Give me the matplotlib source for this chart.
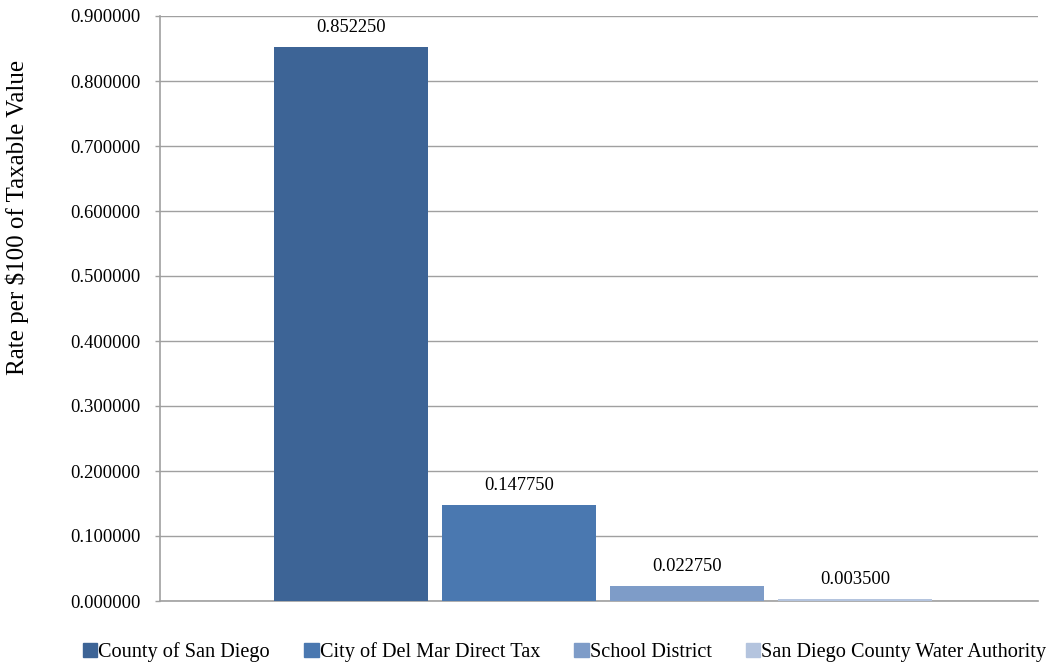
import matplotlib.pyplot as plt
from matplotlib.patches import Patch

# data
agencies = ['County of San Diego', 'City of Del Mar Direct Tax',
            'School District', 'San Diego County Water Authority']
rates = [0.852250, 0.147750, 0.022750, 0.003500]
colors = ['#3D6496', '#4A78B0', '#7E9CC8', '#B4C4DE']
yticks = [0.0, 0.1, 0.2, 0.3, 0.4, 0.5, 0.6, 0.7, 0.8, 0.9]

plt.rcParams['font.family'] = ['Liberation Serif', 'DejaVu Serif']
fs = 13.3
grey = '#A0A0A0'

fig = plt.figure(figsize=(10.5, 6.64), dpi=100)
ax = fig.add_axes([160 / 1050, 1 - 601 / 664, 878 / 1050, 585 / 664])

w = 154 / 878
pitch = 168 / 878
x0 = (274 - 160) / 878 + w / 2
xs = [x0 + i * pitch for i in range(len(rates))]

ax.bar(xs, rates, width=w, color=colors, zorder=3)
for x, v in zip(xs, rates):
    ax.annotate(f'{v:.6f}', (x, v), xytext=(0, 8), textcoords='offset points',
                ha='center', va='bottom', fontsize=fs)

ax.set_xlim(0, 1)
ax.set_ylim(0, 0.9)
ax.set_yticks(yticks)
ax.set_yticklabels([f'{t:.6f}' for t in yticks], fontsize=fs)
ax.set_xticks([])
ax.grid(axis='y', color=grey, linewidth=1, zorder=0)
ax.tick_params(axis='y', length=3.6, color=grey, width=1, pad=10.5)
for s in ['top', 'right']:
    ax.spines[s].set_visible(False)
for s in ['left', 'bottom']:
    ax.spines[s].set_color(grey)
    ax.spines[s].set_linewidth(1.2)

ax.set_ylabel('Rate per $100 of Taxable Value', fontsize=18,
              ha='center', va='center')
ax.yaxis.set_label_coords(-143 / 878, (601 - 217) / 585)

handles = [Patch(color=c, label=a) for c, a in zip(colors, agencies)]
fig.legend(handles=handles, loc='center left', bbox_to_anchor=(83 / 1050, 1 - 652 / 664),
           ncol=4, frameon=False, fontsize=14.6, handlelength=0.7, handleheight=0.7,
           handletextpad=0.05, columnspacing=1.7, borderpad=0, borderaxespad=0)

fig.savefig('out.png', dpi=100)
